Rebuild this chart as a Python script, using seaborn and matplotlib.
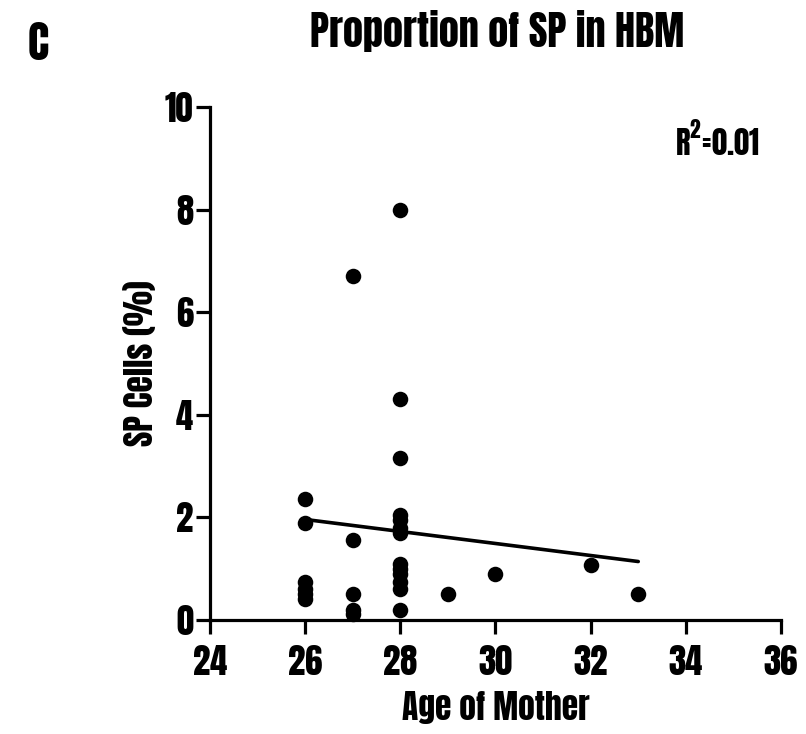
import matplotlib
matplotlib.use("Agg")
import matplotlib.pyplot as plt
import seaborn as sns
import pandas as pd
from matplotlib import font_manager

# ---- data ----
age = [26, 26, 26, 26, 26, 26,
       27, 27, 27, 27, 27,
       28, 28, 28, 28, 28, 28, 28, 28, 28, 28, 28, 28, 28,
       29, 30, 32, 33]
sp_cells = [2.35, 1.9, 0.75, 0.6, 0.5, 0.4,
            6.7, 1.55, 0.5, 0.2, 0.12,
            8.0, 4.3, 3.15, 2.05, 1.95, 1.8, 1.7, 1.1, 1.0, 0.9, 0.75, 0.6, 0.2,
            0.5, 0.9, 1.08, 0.5]
fit_x = [26, 33]
fit_y = [1.96, 1.14]
x_ticks = [24, 26, 28, 30, 32, 34, 36]
y_ticks = [0, 2, 4, 6, 8, 10]
title = "Proportion of SP in HBM"
xlabel = "Age of Mother"
ylabel = "SP Cells (%)"
panel = "C"

df = pd.DataFrame({"age": age, "sp": sp_cells})
fit = pd.DataFrame({"age": fit_x, "sp": fit_y})

sns.set_style("ticks")
names = {f.name for f in font_manager.fontManager.ttflist}
fam, wt = "DejaVu Sans", "bold"
for cand, w in [("Anton", "normal"), ("Oswald", "bold"), ("Barlow Condensed", 800)]:
    if cand in names:
        fam, wt = cand, w
        break
plt.rcParams["font.family"] = [fam, "DejaVu Sans"]
plt.rcParams["mathtext.fontset"] = "custom"
plt.rcParams["mathtext.rm"] = fam
plt.rcParams["mathtext.default"] = "rm"
for k in ["text.color", "axes.labelcolor", "xtick.color", "ytick.color"]:
    plt.rcParams[k] = "black"

fig = plt.figure(figsize=(8.06, 7.34), dpi=100)
ax = fig.add_axes([210 / 806, 1 - 620 / 734, 571 / 806, 513 / 734])

sns.scatterplot(data=df, x="age", y="sp", ax=ax, color="black", s=125,
                edgecolor="black", linewidth=0, zorder=3, legend=False,
                clip_on=False)
sns.lineplot(data=fit, x="age", y="sp", ax=ax, color="black", linewidth=2.6,
             zorder=2)

ax.set_xlim(24, 36)
ax.set_ylim(0, 10)
ax.set_xticks(x_ticks)
ax.set_yticks(y_ticks)
ax.set_xticklabels([str(t) for t in x_ticks], fontsize=25, fontweight=wt)
ax.set_yticklabels([str(t) for t in y_ticks], fontsize=25, fontweight=wt)
ax.tick_params(axis="x", direction="out", length=10, width=2.3, pad=8)
ax.tick_params(axis="y", direction="out", length=10, width=2.3, pad=2)
for side in ["top", "right"]:
    ax.spines[side].set_visible(False)
for side in ["left", "bottom"]:
    ax.spines[side].set_linewidth(2.3)
    ax.spines[side].set_color("black")

ax.set_xlabel(xlabel, fontsize=24, fontweight=wt, labelpad=9)
ax.set_ylabel(ylabel, fontsize=24, fontweight=wt, labelpad=6)

ax.text(0.962, 0.935, "R$^{2}$=0.01", transform=ax.transAxes, fontsize=22,
        fontweight=wt, ha="right", va="center")

fig.text(497 / 806, 1 - 31 / 734, title, fontsize=29, fontweight=wt,
         ha="center", va="center")
fig.text(38 / 806, 1 - 44 / 734, panel, fontsize=32, fontweight=wt,
         ha="center", va="center")

fig.savefig("out.png", dpi=100)
